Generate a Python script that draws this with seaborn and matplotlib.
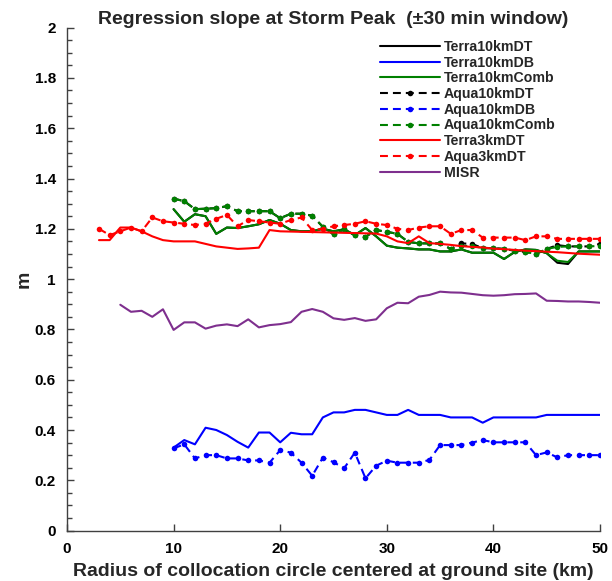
import matplotlib
matplotlib.use("Agg")
import matplotlib.pyplot as plt
import seaborn as sns
import pandas as pd
from matplotlib.ticker import MultipleLocator, FixedLocator

# ---------------- data ----------------
radius_3km = list(range(3, 51))
radius_10km = list(range(10, 51))
radius_misr = list(range(5, 51))

terra10_dt = [1.278, 1.228, 1.258, 1.25, 1.18, 1.205, 1.203, 1.21, 1.218, 1.235,
              1.22, 1.195, 1.19, 1.19, 1.20, 1.19, 1.198, 1.175, 1.203, 1.17,
              1.133, 1.125, 1.122, 1.118, 1.118, 1.11, 1.11, 1.118, 1.105, 1.105,
              1.105, 1.08, 1.108, 1.118, 1.116, 1.103, 1.065, 1.06, 1.11, 1.11, 1.11]
terra10_db = [0.33, 0.36, 0.343, 0.409, 0.40, 0.38, 0.353, 0.33, 0.39, 0.39,
              0.351, 0.389, 0.383, 0.383, 0.45, 0.47, 0.47, 0.48, 0.48, 0.47,
              0.46, 0.46, 0.48, 0.46, 0.46, 0.46, 0.45, 0.45, 0.45, 0.429,
              0.45, 0.45, 0.45, 0.45, 0.45, 0.46, 0.46, 0.46, 0.46, 0.46, 0.46]
terra10_comb = [1.278, 1.228, 1.258, 1.25, 1.18, 1.205, 1.203, 1.21, 1.218, 1.235,
                1.22, 1.195, 1.19, 1.19, 1.20, 1.19, 1.198, 1.175, 1.203, 1.17,
                1.133, 1.125, 1.122, 1.118, 1.118, 1.11, 1.11, 1.118, 1.105, 1.105,
                1.105, 1.08, 1.108, 1.118, 1.116, 1.103, 1.073, 1.068, 1.11, 1.11, 1.11]
aqua10_dt = [1.32, 1.31, 1.278, 1.28, 1.282, 1.29, 1.27, 1.27, 1.27, 1.27,
             1.242, 1.26, 1.26, 1.252, 1.208, 1.178, 1.198, 1.175, 1.168, 1.195,
             1.188, 1.18, 1.148, 1.142, 1.142, 1.142, 1.12, 1.142, 1.14, 1.123,
             1.123, 1.12, 1.113, 1.108, 1.10, 1.12, 1.135, 1.13, 1.13, 1.13, 1.14]
aqua10_db = [0.327, 0.343, 0.287, 0.30, 0.30, 0.287, 0.287, 0.279, 0.279, 0.27,
             0.32, 0.31, 0.27, 0.218, 0.29, 0.272, 0.248, 0.31, 0.208, 0.258,
             0.278, 0.27, 0.27, 0.27, 0.281, 0.34, 0.34, 0.34, 0.35, 0.36,
             0.351, 0.351, 0.351, 0.351, 0.30, 0.311, 0.291, 0.30, 0.30, 0.30, 0.30]
aqua10_comb = [1.32, 1.31, 1.278, 1.28, 1.282, 1.29, 1.27, 1.27, 1.27, 1.27,
               1.242, 1.26, 1.26, 1.252, 1.208, 1.178, 1.198, 1.175, 1.168, 1.195,
               1.188, 1.18, 1.148, 1.142, 1.142, 1.142, 1.12, 1.132, 1.132, 1.123,
               1.123, 1.12, 1.113, 1.108, 1.10, 1.12, 1.128, 1.13, 1.13, 1.13, 1.132]
terra3_dt = [1.155, 1.155, 1.205, 1.205, 1.19, 1.17, 1.155, 1.15, 1.15, 1.15,
             1.14, 1.13, 1.125, 1.12, 1.122, 1.125, 1.195, 1.19, 1.189, 1.188,
             1.187, 1.186, 1.185, 1.184, 1.183, 1.182, 1.181, 1.17, 1.15, 1.143,
             1.17, 1.143, 1.14, 1.136, 1.131, 1.128, 1.126, 1.121, 1.119, 1.116,
             1.113, 1.111, 1.109, 1.107, 1.104, 1.101, 1.099, 1.097]
aqua3_dt = [1.20, 1.175, 1.19, 1.205, 1.19, 1.245, 1.23, 1.225, 1.22, 1.215,
            1.22, 1.24, 1.255, 1.21, 1.235, 1.23, 1.225, 1.22, 1.235, 1.245,
            1.195, 1.20, 1.21, 1.215, 1.22, 1.23, 1.22, 1.215, 1.20, 1.195,
            1.205, 1.21, 1.21, 1.18, 1.195, 1.195, 1.165, 1.165, 1.165, 1.165,
            1.155, 1.17, 1.17, 1.16, 1.16, 1.16, 1.16, 1.16]
misr = [0.898, 0.87, 0.874, 0.85, 0.88, 0.798, 0.828, 0.828, 0.803, 0.815,
        0.82, 0.813, 0.84, 0.808, 0.817, 0.821, 0.829, 0.87, 0.881, 0.87,
        0.844, 0.838, 0.845, 0.834, 0.84, 0.884, 0.906, 0.904, 0.93, 0.937,
        0.95, 0.947, 0.946, 0.941, 0.936, 0.934, 0.936, 0.94, 0.941, 0.943,
        0.914, 0.913, 0.911, 0.911, 0.909, 0.906]

series_names = ["Terra10kmDT", "Terra10kmDB", "Terra10kmComb", "Aqua10kmDT",
                "Aqua10kmDB", "Aqua10kmComb", "Terra3kmDT", "Aqua3kmDT", "MISR"]
x_ticks = [0, 10, 20, 30, 40, 50]
y_ticks = [0, 0.2, 0.4, 0.6, 0.8, 1.0, 1.2, 1.4, 1.6, 1.8, 2.0]
y_tick_labels = ["0", "0.2", "0.4", "0.6", "0.8", "1", "1.2", "1.4", "1.6", "1.8", "2"]

# ---------------- style ----------------
sns.set_style("ticks", {"xtick.direction": "in", "ytick.direction": "in"})
plt.rcParams["font.family"] = ["Liberation Sans", "DejaVu Sans"]
axis_col = "#404040"

fig = plt.figure(figsize=(6.12, 5.81), dpi=100)
ax = fig.add_axes([67 / 612, 50.4 / 581, 533 / 612, 503 / 581])

purple = "#7E2F8E"
specs = [
    (radius_10km, terra10_dt, "black", False),
    (radius_10km, terra10_db, "#0000FF", False),
    (radius_10km, terra10_comb, "#008000", False),
    (radius_10km, aqua10_dt, "black", True),
    (radius_10km, aqua10_db, "#0000FF", True),
    (radius_10km, aqua10_comb, "#008000", True),
    (radius_3km, terra3_dt, "#FF0000", False),
    (radius_3km, aqua3_dt, "#FF0000", True),
    (radius_misr, misr, purple, False),
]

for (xs, ys, col, dashed), name in zip(specs, series_names):
    df = pd.DataFrame({"radius": xs, "slope": ys})
    kws = dict(color=col, linewidth=1.5)
    if dashed:
        kws.update(linestyle=(0, (3.8, 2.4)), marker="o", markersize=4,
                   markeredgecolor=col, markerfacecolor=col, markeredgewidth=0)
    sns.lineplot(data=df, x="radius", y="slope", ax=ax, errorbar=None,
                 sort=False, legend=False, **kws)

ax.set_xlim(0, 50)
ax.set_ylim(0, 2)
ax.xaxis.set_major_locator(FixedLocator(x_ticks))
ax.yaxis.set_major_locator(FixedLocator(y_ticks))
ax.set_yticklabels(y_tick_labels)
ax.yaxis.set_minor_locator(MultipleLocator(0.05))
ax.tick_params(axis="both", which="major", direction="in", length=5, width=1,
               color=axis_col, labelsize=11, labelcolor="black")
ax.tick_params(axis="y", which="major", pad=8)
ax.tick_params(axis="x", which="major", pad=8)
ax.tick_params(axis="y", which="minor", direction="in", length=3.5, width=1,
               color=axis_col)
for lab in ax.get_xticklabels() + ax.get_yticklabels():
    lab.set_fontweight("bold")

sns.despine(ax=ax)
for s in ["left", "bottom"]:
    ax.spines[s].set_color(axis_col)
    ax.spines[s].set_linewidth(1)

ax.set_xlabel("Radius of collocation circle centered at ground site (km)",
              fontsize=14, fontweight="bold", labelpad=5)
ax.set_ylabel("m", fontsize=14, fontweight="bold", labelpad=1.5)
ax.set_title("Regression slope at Storm Peak  (\u00b130 min window)",
             fontsize=14, fontweight="bold", pad=2.5)

leg = ax.legend(handles=ax.lines[:9], labels=series_names, loc="upper left",
                bbox_to_anchor=(380 / 612, 1 - 40 / 581),
                bbox_transform=fig.transFigure, frameon=False,
                prop={"weight": "bold", "size": 10.2}, handlelength=4.2,
                handletextpad=0.3, labelspacing=0.12, borderpad=0,
                borderaxespad=0, numpoints=1)

fig.savefig("out.png", dpi=100)
